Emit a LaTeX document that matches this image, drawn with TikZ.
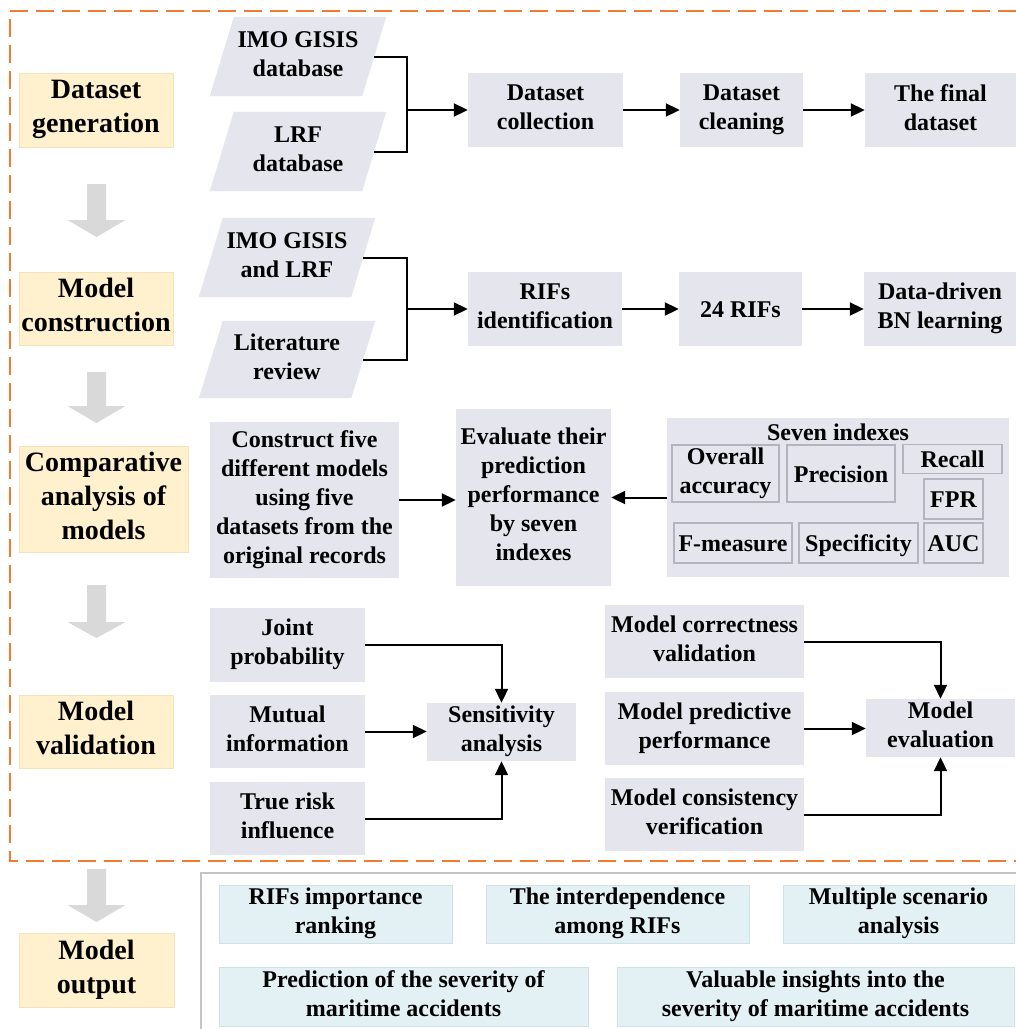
\documentclass[tikz,border=0pt]{standalone}
\usepackage{fontspec}
\setmainfont{Liberation Serif}
\usetikzlibrary{arrows.meta,backgrounds}

\definecolor{boxgray}{HTML}{E5E5EE}
\definecolor{framegray}{HTML}{B4B4BE}
\definecolor{stagefill}{HTML}{FFF1CE}
\definecolor{stageline}{HTML}{F6E2B8}
\definecolor{outfill}{HTML}{E3F1F5}
\definecolor{outline}{HTML}{CFE2E8}
\definecolor{dashorange}{HTML}{EE7D31}
\definecolor{bigarrow}{HTML}{D9D9D9}
\definecolor{panelgray}{HTML}{C4C4C4}

% struts: fixed height for the first line, fixed depth for the last one
\newcommand\boxtop{\rule{0pt}{23.3pt}}
\newcommand\boxbottom{\rule[-5.7pt]{0pt}{5.7pt}}
\newcommand\stagetop{\rule{0pt}{27.3pt}}
\newcommand\stagebottom{\rule[-6.7pt]{0pt}{6.7pt}}

% box given by its corners (x1,y1) and (x2,y2), in pixel-like units
\newcommand\flowbox[8][]{%
  \pgfmathsetmacro\fbw{#6-#4}%
  \pgfmathsetmacro\fbh{#7-#5}%
  \node[#2, minimum width=\fbw pt, minimum height=\fbh pt, #1] (#3)
    at ({(#4+#6)/2},{(#5+#7)/2}) {#8};}

% broad grey arrow pointing down: centre x, top, head base, tip
\newcommand\stagearrow[4]{%
  \fill[bigarrow] (#1-9.5,#2) -- (#1+9.5,#2) -- (#1+9.5,#3) -- (#1+29,#3)
    -- (#1,#4) -- (#1-29,#3) -- (#1-9.5,#3) -- cycle;}

\tikzset{
  txt/.style={inner sep=0pt, align=center,
    font=\bfseries\fontsize{24}{29}\selectfont,
    execute at begin node=\boxtop, execute at end node=\boxbottom},
  gbox/.style={txt, fill=boxgray},
  ibox/.style={txt, fill=boxgray, draw=framegray, line width=1.2pt},
  para/.style={txt},
  stage/.style={inner sep=0pt, align=center, fill=stagefill, draw=stageline,
    line width=1pt, font=\bfseries\fontsize{28}{34}\selectfont,
    execute at begin node=\stagetop, execute at end node=\stagebottom},
  obox/.style={txt, fill=outfill, draw=outline, line width=1pt},
  conn/.style={line width=2pt, black},
  arr/.style={conn, -{Triangle[length=14pt,width=13pt]}},
}

\begin{document}
\begin{tikzpicture}[x=1pt,y=-1pt]
\useasboundingbox (0,0) rectangle (1016,1029);

% dashed frame around the first four stages
\draw[dashorange, line width=2.5pt, dash pattern=on 18pt off 8pt]
  (1016,11) -- (10,11) -- (10,861) -- (1016,861);

% frame of the output panel
\draw[panelgray, line width=2pt] (1016,873) -- (201,873) -- (201,1029);

% stage arrows
\stagearrow{96.5}{184}{220}{237}
\stagearrow{96.5}{372}{406}{423}
\stagearrow{96.5}{585}{622}{638}
\stagearrow{96.5}{869}{905}{922}

% stage labels
\flowbox{stage}{sDG}{19}{73}{173}{147}{Dataset\\generation}
\flowbox{stage}{sMC}{19}{272}{173}{345}{Model\\construction}
\flowbox{stage}{sCA}{19}{446}{188}{552}{Comparative\\analysis of\\models}
\flowbox{stage}{sMV}{19}{695}{173}{768}{Model\\validation}
\flowbox{stage}{sMO}{19}{933}{174}{1007}{Model\\output}

% data sources
\flowbox{para}{imo}{222}{17}{374}{96}{IMO GISIS\\database}
\flowbox{para}{lrf}{222}{112}{374}{191}{LRF\\database}
\flowbox{para}{imolrf}{211}{218}{363}{297}{IMO GISIS\\and LRF}
\flowbox{para}{lit}{211}{321}{363}{398}{Literature\\review}

% dataset generation row
\flowbox{gbox}{dcol}{468}{73}{623}{147}{Dataset\\collection}
\flowbox{gbox}{dcln}{680}{73}{803}{147}{Dataset\\cleaning}
\flowbox{gbox}{dfin}{865}{73}{1016}{147}{The final\\dataset}

% model construction row
\flowbox{gbox}{rifid}{468}{272}{622}{346}{RIFs\\identification}
\flowbox{gbox}{rif24}{679}{272}{802}{346}{24 RIFs}
\flowbox{gbox}{bn}{864}{272}{1016}{346}{Data-driven\\BN learning}

% comparative analysis row
\flowbox{gbox}{cons}{210}{422}{399}{578}{Construct five\\different models\\using five\\datasets from the\\original records}
\flowbox{gbox}{eval}{456}{409}{611}{586}{Evaluate their\\prediction\\performance\\by seven\\indexes}
\flowbox{gbox}{seven}{667}{418}{1009}{577}{}
\node[txt] (seventitle) at (838,432) {Seven indexes};
\flowbox{ibox}{oa}{672}{445}{779}{502}{Overall\\accuracy}
\flowbox{ibox}{prec}{787}{445}{895}{502}{Precision}
\flowbox{ibox}{rec}{903}{445}{1002}{473}{Recall}
\flowbox{ibox}{fpr}{924}{479}{983}{519}{FPR}
\flowbox{ibox}{fm}{674}{523}{792}{563}{F-measure}
\flowbox{ibox}{spec}{799}{523}{918}{563}{Specificity}
\flowbox{ibox}{auc}{924}{523}{983}{563}{AUC}

% model validation row
\flowbox{gbox}{joint}{210}{608}{365}{682}{Joint\\probability}
\flowbox{gbox}{mutual}{210}{695}{365}{768}{Mutual\\information}
\flowbox{gbox}{trisk}{210}{782}{365}{855}{True risk\\influence}
\flowbox{gbox}{sens}{427}{703}{576}{761}{Sensitivity\\analysis}
\flowbox{gbox}{mcorr}{605}{605}{804}{678}{Model correctness\\validation}
\flowbox{gbox}{mpred}{605}{692}{804}{765}{Model predictive\\performance}
\flowbox{gbox}{mcons}{605}{778}{804}{851}{Model consistency\\verification}
\flowbox{gbox}{meval}{866}{699}{1015}{757}{Model\\evaluation}

% model output panel
\flowbox{obox}{o1}{219}{885}{452}{943}{RIFs importance\\ranking}
\flowbox{obox}{o2}{486}{885}{749}{943}{The interdependence\\among RIFs}
\flowbox{obox}{o3}{783}{885}{1014}{943}{Multiple scenario\\analysis}
\flowbox{obox}{o4}{219}{967}{588}{1026}{Prediction of the severity of\\maritime accidents}
\flowbox{obox}{o5}{617}{967}{1014}{1026}{Valuable insights into the\\severity of maritime accidents}

% white page and slanted source shapes behind the text
\begin{scope}[on background layer]
  \fill[white] (0,0) rectangle (1016,1029);
  \foreach \p in {imo,lrf,imolrf,lit}{
    \fill[boxgray] ([xshift=12pt]\p.north west) -- ([xshift=12pt]\p.north east)
      -- ([xshift=-12pt]\p.south east) -- ([xshift=-12pt]\p.south west) -- cycle;
  }
\end{scope}

% connectors
\coordinate (j1) at (407,110);
\draw[conn] (imo.east) -| (j1);
\draw[conn] (lrf.east) -| (j1);
\draw[arr] (j1) -- (dcol.west);
\draw[arr] (dcol) -- (dcln);
\draw[arr] (dcln) -- (dfin);

\coordinate (j2) at (407,309);
\draw[conn] (imolrf.east) -| (j2);
\draw[conn] (lit.east) -| (j2);
\draw[arr] (j2) -- (rifid.west);
\draw[arr] (rifid) -- (rif24);
\draw[arr] (rif24) -- (bn);

\draw[arr] (cons.east) -- (cons.east -| eval.west);
\draw[arr] (seven.west) -- (seven.west -| eval.east);

\draw[arr] (joint.east) -| (sens.north);
\draw[arr] (mutual.east) -- (mutual.east -| sens.west);
\draw[arr] (trisk.east) -| (sens.south);

\draw[arr] (mcorr.east) -| (meval.north);
\draw[arr] (mpred.east) -- (mpred.east -| meval.west);
\draw[arr] (mcons.east) -| (meval.south);
\end{tikzpicture}
\end{document}
